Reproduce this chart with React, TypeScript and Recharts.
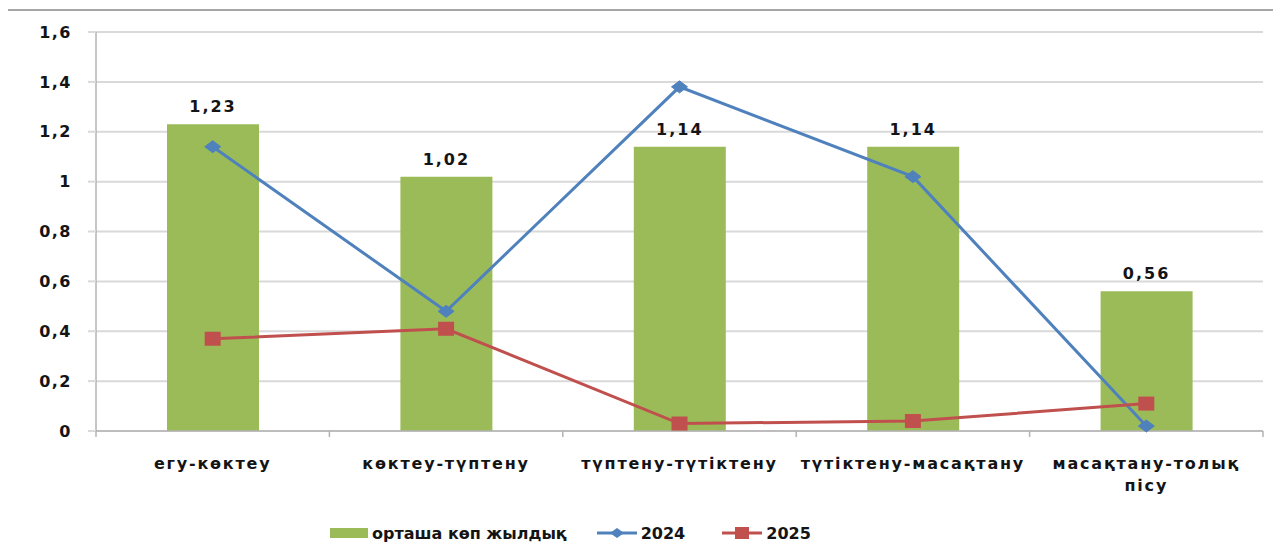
import React from 'react';
import {
  Bar,
  CartesianGrid,
  ComposedChart,
  LabelList,
  Legend,
  Line,
  XAxis,
  YAxis,
} from 'recharts';

// Stage names (explicit line breaks as in the source chart)
const stages = [
  'егу-көктеу',
  'көктеу-түптену',
  'түптену-түтіктену',
  'түтіктену-масақтану',
  'масақтану-толық\nпісу',
];
const longTermAvg = [1.23, 1.02, 1.14, 1.14, 0.56];
const values2024 = [1.14, 0.48, 1.38, 1.02, 0.02];
const values2025 = [0.37, 0.41, 0.03, 0.04, 0.11];
const yTicks = [0, 0.2, 0.4, 0.6, 0.8, 1, 1.2, 1.4, 1.6];

const seriesNames = { avg: 'орташа көп жылдық', y2024: '2024', y2025: '2025' };

const GREEN = '#9BBB59';
const BLUE = '#4F81BD';
const RED = '#C0504D';
const AXIS = '#b3b3b3';
const GRID = '#d9d9d9';
const INK = '#141414';
const FONT = '"DejaVu Sans", Verdana, sans-serif';

const data = stages.map((stage, i) => ({
  stage,
  avg: longTermAvg[i],
  y2024: values2024[i],
  y2025: values2025[i],
}));

const comma = (v: number | string) => String(v).replace('.', ',');

const Diamond = (props: any) => {
  const { cx, cy } = props;
  if (cx == null || cy == null) return null;
  return (
    <polygon
      points={`${cx - 8},${cy} ${cx},${cy - 6} ${cx + 8},${cy} ${cx},${cy + 6}`}
      fill={BLUE}
      stroke={BLUE}
    />
  );
};

const Square = (props: any) => {
  const { cx, cy } = props;
  if (cx == null || cy == null) return null;
  return <rect x={cx - 8} y={cy - 7} width={16} height={14} fill={RED} />;
};

const StageTick = (props: any) => {
  const { x, y, payload, index, visibleTicksCount } = props;
  const half = payload?.offset ?? 0;
  const lines = String(payload.value).split('\n');
  return (
    <g>
      <line x1={x - half} y1={y - 6} x2={x - half} y2={y} stroke={AXIS} strokeWidth={1.5} />
      {index === visibleTicksCount - 1 && (
        <line x1={x + half} y1={y - 6} x2={x + half} y2={y} stroke={AXIS} strokeWidth={1.5} />
      )}
      <text
        x={x}
        y={y + 32}
        textAnchor="middle"
        fontFamily={FONT}
        fontWeight="bold"
        fontSize={16}
        letterSpacing={1.8}
        fill={INK}
      >
        {lines.map((l, i) => (
          <tspan key={i} x={x} dy={i === 0 ? 0 : 22}>
            {l}
          </tspan>
        ))}
      </text>
    </g>
  );
};

const LegendBox = () => {
  const text: React.CSSProperties = {
    fontFamily: FONT,
    fontWeight: 'bold',
    fontSize: 16,
    color: INK,
    marginLeft: 4,
    whiteSpace: 'nowrap',
  };
  return (
    <div
      style={{
        height: 44,
        display: 'flex',
        alignItems: 'center',
        justifyContent: 'flex-start',
        paddingLeft: 330,
      }}
    >
      <svg width={38} height={12}>
        <rect x={0} y={1} width={38} height={10} fill={GREEN} />
      </svg>
      <span style={text}>{seriesNames.avg}</span>
      <svg width={40} height={14} style={{ marginLeft: 30 }}>
        <line x1={0} y1={7} x2={40} y2={7} stroke={BLUE} strokeWidth={3} />
        <polygon points="13,7 20,2 27,7 20,12" fill={BLUE} />
      </svg>
      <span style={text}>{seriesNames.y2024}</span>
      <svg width={40} height={14} style={{ marginLeft: 37 }}>
        <line x1={0} y1={7} x2={40} y2={7} stroke={RED} strokeWidth={3} />
        <rect x={13} y={1} width={14} height={12} fill={RED} />
      </svg>
      <span style={text}>{seriesNames.y2025}</span>
    </div>
  );
};

export default function App() {
  return (
    <div style={{ position: 'relative', width: 1281, height: 555, margin: -8, background: '#fff' }}>
      <div
        style={{
          position: 'absolute',
          left: 6,
          top: 9,
          right: 0,
          bottom: 0,
          borderTop: '2px solid #a6a6a6',
          borderLeft: '2px solid #a6a6a6',
        }}
      />
      <div style={{ position: 'absolute', left: 0, top: 0 }}>
        <ComposedChart
          width={1281}
          height={555}
          data={data}
          margin={{ top: 32, right: 18, bottom: 0, left: 0 }}
          barCategoryGap={0}
        >
          <CartesianGrid vertical={false} stroke={GRID} strokeWidth={2} />
          <XAxis
            dataKey="stage"
            height={80}
            axisLine={{ stroke: AXIS, strokeWidth: 1.5 }}
            tickLine={false}
            tickSize={6}
            tickMargin={0}
            interval={0}
            tick={<StageTick />}
          />
          <YAxis
            width={96}
            domain={[0, 1.6]}
            ticks={yTicks}
            interval={0}
            axisLine={{ stroke: AXIS, strokeWidth: 1.5 }}
            tickLine={{ stroke: GRID, strokeWidth: 2 }}
            tickSize={8}
            tickMargin={16}
            tickFormatter={comma}
            tick={{
              fontFamily: FONT,
              fontWeight: 'bold',
              fontSize: 16,
              letterSpacing: 1.5,
              fill: INK,
            }}
          />
          <Legend verticalAlign="bottom" content={<LegendBox />} />
          <Bar dataKey="avg" name={seriesNames.avg} fill={GREEN} barSize={92} isAnimationActive={false}>
            <LabelList
              dataKey="avg"
              position="top"
              offset={12}
              formatter={comma}
              style={{
                fontFamily: FONT,
                fontWeight: 'bold',
                fontSize: 16,
                letterSpacing: 2,
                fill: INK,
              }}
            />
          </Bar>
          <Line
            dataKey="y2024"
            name={seriesNames.y2024}
            stroke={BLUE}
            strokeWidth={3}
            dot={<Diamond />}
            activeDot={false}
            isAnimationActive={false}
          />
          <Line
            dataKey="y2025"
            name={seriesNames.y2025}
            stroke={RED}
            strokeWidth={3}
            dot={<Square />}
            activeDot={false}
            isAnimationActive={false}
          />
        </ComposedChart>
      </div>
    </div>
  );
}
